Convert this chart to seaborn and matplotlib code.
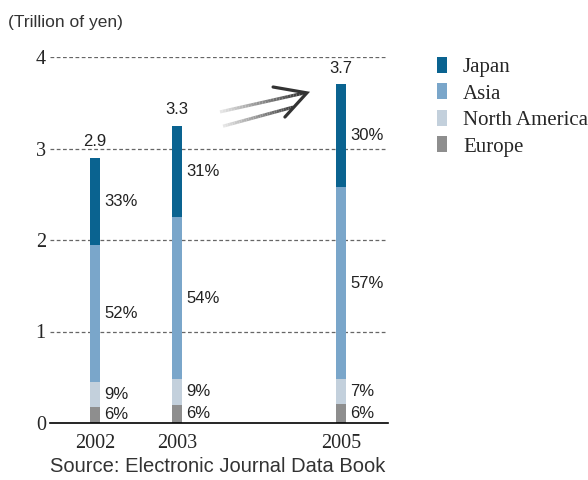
import numpy as np
import pandas as pd
import matplotlib
matplotlib.use("Agg")
import matplotlib.pyplot as plt
import seaborn as sns
from matplotlib.patches import Patch
from matplotlib.collections import LineCollection

# ---- data ----
years = [2002, 2003, 2005]
regions = ["Japan", "Asia", "North America", "Europe"]
japan = [0.95, 1.00, 1.12]
asia = [1.50, 1.77, 2.10]
north_america = [0.27, 0.28, 0.27]
europe = [0.18, 0.20, 0.21]
totals_text = ["2.9", "3.3", "3.7"]
pct_japan = ["33%", "31%", "30%"]
pct_asia = ["52%", "54%", "57%"]
pct_na = ["9%", "9%", "7%"]
pct_europe = ["6%", "6%", "6%"]
colors = {"Japan": "#0a6390", "Asia": "#7aa6ca", "North America": "#c3d0dc", "Europe": "#8e8e8e"}

series = {"Japan": japan, "Asia": asia, "North America": north_america, "Europe": europe}
rows = []
for r in regions:
    for y, v in zip(years, series[r]):
        rows.append({"year": y, "region": r, "value": v})
df = pd.DataFrame(rows)

sns.set_style("white")
fig = plt.figure(figsize=(5.88, 4.8), dpi=100)
ax = fig.add_axes([50/588, 57/480, 338/588, 366/480])

sns.histplot(data=df, x="year", weights="value", hue="region", hue_order=regions,
             multiple="stack", discrete=True, shrink=0.12, palette=colors,
             element="bars", alpha=1, linewidth=0, ax=ax, legend=False)

ax.set_xlim(2001.45, 2005.57)
ax.set_ylim(0, 4)
ax.set_yticks([0, 1, 2, 3, 4])
ax.set_xticks(years)
ax.set_xticklabels([str(y) for y in years], fontfamily="Liberation Serif", fontsize=14.5)
ax.set_yticklabels(["0", "1", "2", "3", "4"], fontfamily="Liberation Serif", fontsize=14.5)
ax.tick_params(axis="y", length=3, width=1, pad=0, color="#333333")
ax.tick_params(axis="x", length=0, pad=8)
for y in [1, 2, 3, 4]:
    ax.axhline(y, color="#666666", lw=0.9, ls=(0, (3, 2)), zorder=0)
for s in ["left", "right", "top"]:
    ax.spines[s].set_visible(False)
ax.spines["bottom"].set_color("black")
ax.spines["bottom"].set_linewidth(1.2)
ax.set_xlabel("")
ax.set_ylabel("")

sans = ["Liberation Sans", "DejaVu Sans"]
# labels
for i, yr in enumerate(years):
    segs = [europe[i], north_america[i], asia[i], japan[i]]
    labs = [pct_europe[i], pct_na[i], pct_asia[i], pct_japan[i]]
    base = 0
    for v, lab in zip(segs, labs):
        ax.annotate(lab, (yr + 0.06, base + v / 2), xytext=(3, 0), textcoords="offset points",
                    ha="left", va="center", fontsize=12, family=sans, color="#222222")
        base += v
    ax.annotate(totals_text[i], (yr, base), xytext=(0, 6), textcoords="offset points",
                ha="center", va="bottom", fontsize=12, family=sans, color="#222222",
                annotation_clip=False)

# gradient double arrow
def grad_line(p0, p1, c0, c1, n=30, lw=2.3):
    xs = np.linspace(p0[0], p1[0], n + 1)
    ys = np.linspace(p0[1], p1[1], n + 1)
    pts = np.array([xs, ys]).T.reshape(-1, 1, 2)
    segs = np.concatenate([pts[:-1], pts[1:]], axis=1)
    c0 = np.array(matplotlib.colors.to_rgb(c0)); c1 = np.array(matplotlib.colors.to_rgb(c1))
    cols = [c0 + (c1 - c0) * t for t in np.linspace(0, 1, n)]
    lc = LineCollection(segs, colors=cols, linewidths=lw, transform=ax.transAxes, capstyle="butt")
    ax.add_collection(lc)

grad_line((0.503, 0.850), (0.754, 0.902), "#e6e6e6", "#303030")
grad_line((0.512, 0.811), (0.719, 0.863), "#e6e6e6", "#404040")
ax.plot([0.660, 0.760, 0.695], [0.918, 0.902, 0.836], color="#333333", lw=2.3,
        transform=ax.transAxes, solid_joinstyle="miter", clip_on=False)

# legend
handles = [Patch(facecolor=colors[r], edgecolor="none") for r in regions]
fig.legend(handles, regions, loc="upper left", bbox_to_anchor=(437/588, 1 - 57/480),
           frameon=False, handlelength=0.5, handleheight=0.8, handletextpad=0.75,
           labelspacing=0.3, borderpad=0, borderaxespad=0,
           prop={"family": "Liberation Serif", "size": 15})

fig.text(8/588, 1 - 22/480, "(Trillion of yen)", fontsize=12.5,
         family=["Liberation Sans Narrow", "Liberation Sans", "DejaVu Sans"],
         color="#333333", va="center", ha="left")
fig.text(50/588, 1 - 467/480, "Source: Electronic Journal Data Book", fontsize=14.5,
         family=sans, color="#333333", va="center", ha="left")

fig.savefig("out.png", dpi=100)
